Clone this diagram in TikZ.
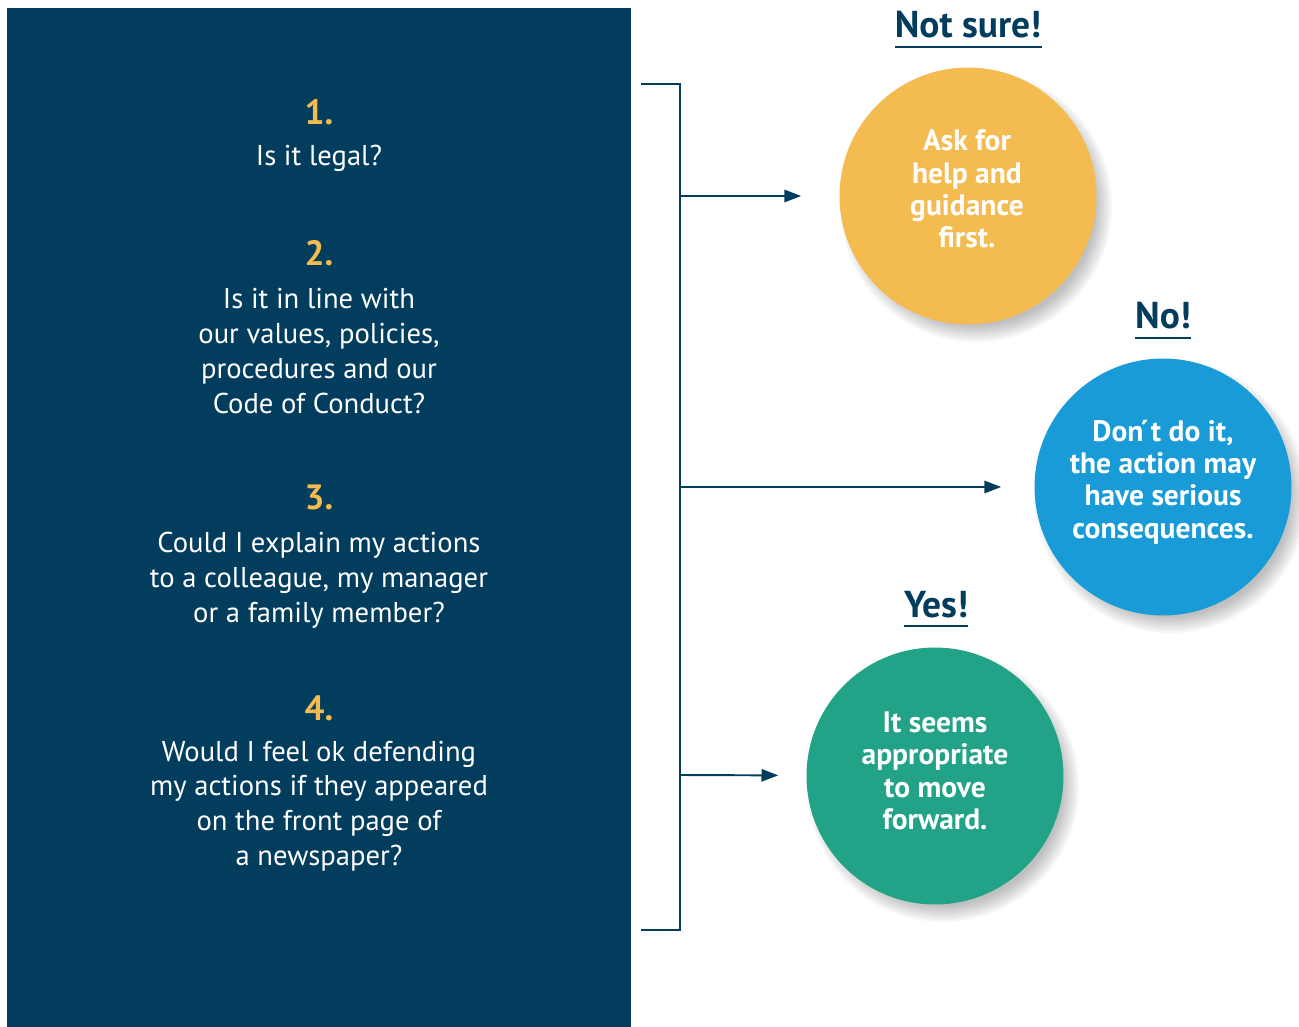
\documentclass[tikz,border=0pt]{standalone}
\usepackage{fontspec}
\setmainfont{PT Sans}
\usetikzlibrary{arrows.meta,positioning}

\definecolor{navy}{HTML}{033D5E}
\definecolor{gold}{HTML}{F3BB50}
\definecolor{sky}{HTML}{189BD7}
\definecolor{jade}{HTML}{22A286}

\begin{document}
\begin{tikzpicture}[x=0.02cm,y=-0.02cm,
    question/.style={text=white,align=center,font=\fontsize{16.3}{19.8}\selectfont},
    number/.style={text=gold,font=\bfseries\fontsize{20}{24}\selectfont},
    answer/.style={circle,minimum size=5.14cm,inner sep=0pt},
    answertext/.style={text=white,align=center,font=\bfseries\fontsize{16.8}{18.4}\selectfont},
    heading/.style={text=navy,font=\bfseries\fontsize{21.3}{24}\selectfont,anchor=base,
        text depth=0pt,inner xsep=0pt,inner ysep=5pt},
    arrow/.style={navy,line width=1.1pt,-{Triangle[length=9.5pt,width=7pt]}},
]
    \useasboundingbox (0,0) rectangle (1299,1027);

    % Question panel
    \fill[navy] (7,8) rectangle (631,1027);

    \node[number] (n1) at (319,112) {1.};
    \node[question] (q1) at (319,158) {Is it legal?};
    \node[number] (n2) at (319,253) {2.};
    \node[question] (q2) at (319,351) {Is it in line with\\our values, policies,\\procedures and our\\Code of Conduct?};
    \node[number] (n3) at (319,497) {3.};
    \node[question] (q3) at (319,580) {Could I explain my actions\\to a colleague, my manager\\or a family member?};
    \node[number] (n4) at (319,708) {4.};
    \node[question] (q4) at (319,806) {Would I feel ok defending\\my actions if they appeared\\on the front page of\\a newspaper?};

    % Bracket
    \draw[navy,line width=1.1pt] (641,84) -| (680,930) -- (641,930);
    \coordinate (b1) at (680,196);
    \coordinate (b2) at (680,487);
    \coordinate (b3) at (680,775);

    % Soft shadows behind the answers
    \foreach \cx/\cy in {968/196,1163/487,935/776} {
        \foreach \r in {120,122,...,136}
            \fill[black,opacity=0.03] (\cx+8,\cy+10) circle (\r);
    }

    % Answers
    \node[answer,fill=gold] (ask) at (968,196) {};
    \node[answer,fill=sky] (dont) at (1163,487) {};
    \node[answer,fill=jade] (go) at (935,776) {};
    \node[answertext] (ask text) at (967,189) {Ask for\\help and\\guidance\\first.};
    \node[answertext] (dont text) at (1163,482) {Don\'{}t do it,\\the action may\\have serious\\consequences.};
    \node[answertext] (go text) at (935,771) {It seems\\appropriate\\to move\\forward.};

    \node[heading] (notsure) at (968,38) {Not sure!};
    \node[heading] (no) at (1163,329) {No!};
    \node[heading] (yes) at (936,617) {Yes!};
    \foreach \h in {notsure,no,yes}
        \draw[navy,line width=1.1pt] (\h.south west) -- (\h.south east);

    % Arrows
    \draw[arrow,shorten >=0.76cm] (b1) -- (ask);
    \draw[arrow,shorten >=0.66cm] (b2) -- (dont);
    \draw[arrow,shorten >=0.56cm] (b3) -- (go);
\end{tikzpicture}
\end{document}
